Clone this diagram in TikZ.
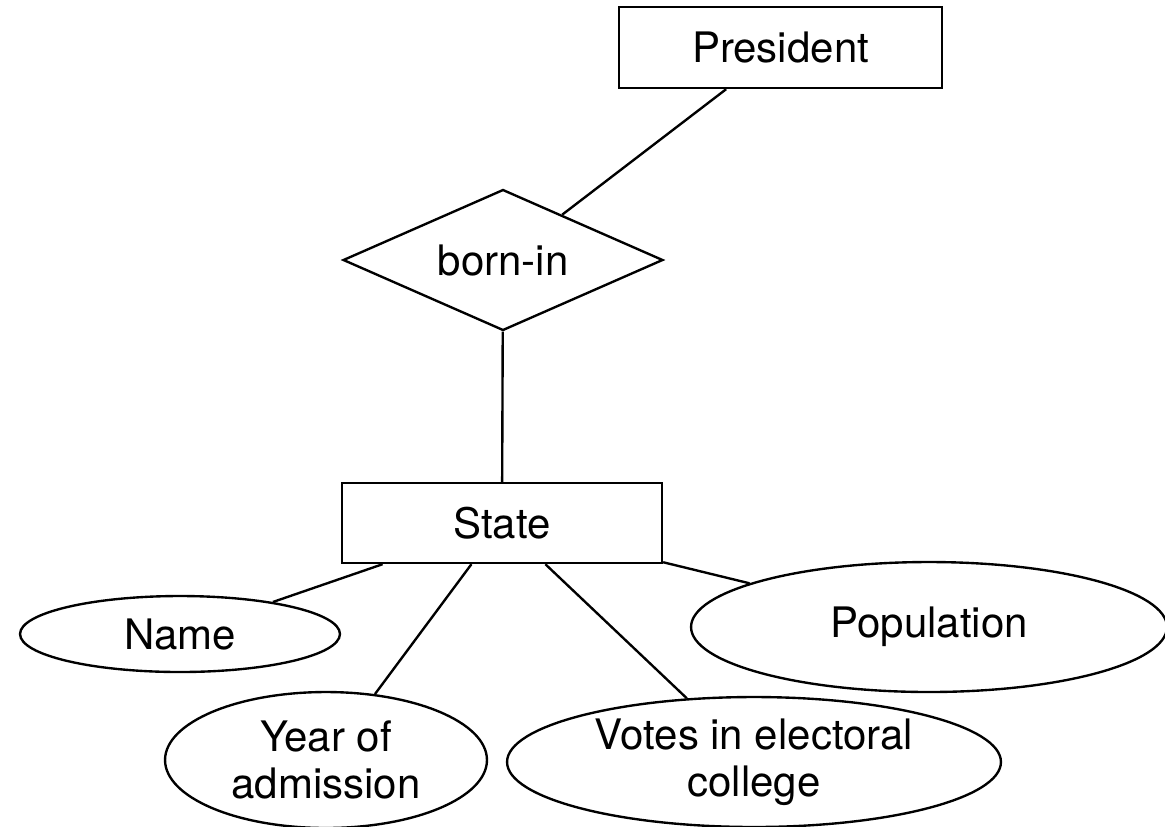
\documentclass[tikz,border=0pt]{standalone}
\usepackage{fontspec}
\setmainfont{TeX Gyre Heros}
\usetikzlibrary{shapes.geometric}
\tikzset{
	entity/.style={draw,rectangle,inner sep=0,minimum height=1.6cm},
	relation/.style={draw,diamond,aspect=2.27,inner sep=0,minimum width=6.4cm,minimum height=2.82cm},
	attrib/.style={draw,ellipse,inner sep=0,align=center},
}
\begin{document}
\begin{tikzpicture}[x=0.02cm,y=-0.02cm,line width=1.35pt,font=\fontsize{23.9}{26.7}\selectfont]
		\clip (0,0) rectangle (1165,826);
		% entities and relation
		\node[entity,minimum width=6.46cm,minimum height=1.62cm] (P) at (780.5,47.5) {President};
		\node[relation] (R) at (503,260) {born-in};
		\node[entity,minimum width=6.4cm] (S) at (502,523) {State};
		% attributes
		\node[attrib,minimum width=6.4cm,minimum height=1.52cm] (N) at (180,634) {Name};
		\node[attrib,minimum width=6.44cm,minimum height=2.72cm] (Y) at (326,760) {Year of\\admission};
		\node[attrib,minimum width=9.88cm,minimum height=2.6cm] (V) at (754,762) {Votes in electoral\\college};
		\node[attrib,minimum width=9.52cm,minimum height=2.6cm] (Po) at (929,627) {Population};
		\draw (P) to (R);
		\draw (R) to (S);
		\draw (S) to (N);
		\draw (S) to (Y);
		\draw (S) to (V);
		\draw (S) to (Po);
	\end{tikzpicture}
\end{document}
